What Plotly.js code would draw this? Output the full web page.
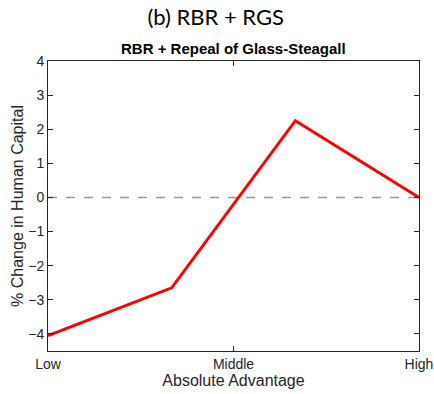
<!DOCTYPE html>
<html>
<head>
<meta charset="utf-8">
<script src="https://cdn.plot.ly/plotly-3.0.1.min.js"></script>
<style>
  html, body { margin: 0; padding: 0; background: #fff; }
  #chart { width: 434px; height: 394px; }
</style>
</head>
<body>
<div id="chart"></div>
<script>
// Absolute-advantage groups and the % change in human capital for each
const groupPositions = [0, 1 / 3, 2 / 3, 1];
const changeInHumanCapital = [-4.05, -2.65, 2.25, 0];
const xTickValues = [0, 0.5, 1];
const xTickLabels = ['Low', 'Middle', 'High'];
const yTickValues = [-4, -3, -2, -1, 0, 1, 2, 3, 4];

const axisColor = '#262626';
const textFamily = 'Liberation Sans, Arial, sans-serif';
const tickFont = { family: textFamily, size: 14, color: '#262626' };
const axisTitleFont = { family: textFamily, size: 16, color: '#262626' };

const trace = {
  x: groupPositions,
  y: changeInHumanCapital,
  type: 'scatter',
  mode: 'lines',
  line: { color: '#ff0000', width: 3 },
  hoverinfo: 'skip'
};

const layout = {
  width: 434,
  height: 394,
  margin: { l: 48, r: 15, t: 61, b: 43 },
  paper_bgcolor: '#ffffff',
  plot_bgcolor: '#ffffff',
  showlegend: false,
  title: {
    text: '(b) RBR + RGS',
    font: { family: 'Lato, Open Sans, sans-serif', size: 22, color: '#000' },
    x: 0.497, xanchor: 'center',
    y: 0.955, yanchor: 'middle'
  },
  xaxis: {
    range: [0, 1],
    tickvals: xTickValues,
    ticktext: xTickLabels,
    ticks: 'inside', ticklen: 5, tickcolor: axisColor,
    showline: true, linecolor: axisColor, linewidth: 1, mirror: 'ticks',
    showgrid: false, zeroline: false,
    tickfont: tickFont,
    title: { text: 'Absolute Advantage', font: axisTitleFont, standoff: 4 }
  },
  yaxis: {
    range: [-4.5, 4],
    tickvals: yTickValues,
    ticks: 'inside', ticklen: 5, tickcolor: axisColor,
    showline: true, linecolor: axisColor, linewidth: 1, mirror: 'ticks',
    showgrid: false, zeroline: false,
    tickfont: tickFont,
    title: { text: '% Change in Human Capital', font: axisTitleFont, standoff: 0 }
  },
  shapes: [{
    type: 'line', xref: 'paper', yref: 'y',
    x0: 0, x1: 1, y0: 0, y1: 0,
    line: { color: '#999999', width: 1.5, dash: 'dash' },
    layer: 'below'
  }],
  annotations: [{
    text: '<b>RBR + Repeal of Glass-Steagall</b>',
    xref: 'paper', yref: 'paper',
    x: 0.5, y: 1, xanchor: 'center', yanchor: 'bottom',
    yshift: 2,
    showarrow: false,
    font: { family: textFamily, size: 15, color: '#000' }
  }]
};

Plotly.newPlot('chart', [trace], layout, { staticPlot: true, displayModeBar: false });
</script>
</body>
</html>
